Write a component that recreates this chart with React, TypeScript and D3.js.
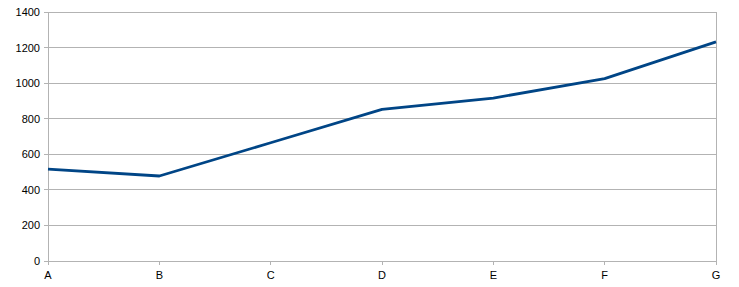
import React from "react";
import * as d3 from "d3";

const categories = ["A", "B", "C", "D", "E", "F", "G"];
const values = [517, 478, 665, 852, 916, 1025, 1232];
const yTicks = [0, 200, 400, 600, 800, 1000, 1200, 1400];

export default function App() {
  const W = 739, H = 287;
  const left = 48, right = 716, top = 12, bottom = 261;
  const x = d3.scalePoint<string>().domain(categories).range([left, right]).padding(0);
  const y = d3.scaleLinear().domain([0, 1400]).range([bottom, top]);
  const line = d3.line<number>().x((_, i) => x(categories[i])!).y((d) => y(d));
  const font = "'Liberation Sans', Arial, sans-serif";
  return (
    <svg width={W} height={H} style={{ position: "absolute", left: 0, top: 0 }}>
      <rect width={W} height={H} fill="#fff" />
      {yTicks.map((t) => (
        <g key={t}>
          <line x1={left} x2={right} y1={y(t)} y2={y(t)} stroke="#b3b3b3" strokeWidth={1} shapeRendering="crispEdges" />
          <line x1={left - 4} x2={left} y1={y(t)} y2={y(t)} stroke="#b3b3b3" strokeWidth={1} shapeRendering="crispEdges" />
          <text x={40} y={y(t) + 4} textAnchor="end" fontFamily={font} fontSize={11} fill="#000">{t}</text>
        </g>
      ))}
      <line x1={left} x2={left} y1={top} y2={bottom} stroke="#b3b3b3" shapeRendering="crispEdges" />
      <line x1={right} x2={right} y1={top} y2={bottom} stroke="#b3b3b3" shapeRendering="crispEdges" />
      {categories.map((c) => (
        <g key={c}>
          <line x1={x(c)!} x2={x(c)!} y1={bottom} y2={bottom + 4} stroke="#b3b3b3" shapeRendering="crispEdges" />
          <text x={x(c)!} y={279} textAnchor="middle" fontFamily={font} fontSize={11} fill="#000">{c}</text>
        </g>
      ))}
      <path d={line(values) ?? ""} fill="none" stroke="#004586" strokeWidth={2.8} strokeLinejoin="round" />
    </svg>
  );
}
